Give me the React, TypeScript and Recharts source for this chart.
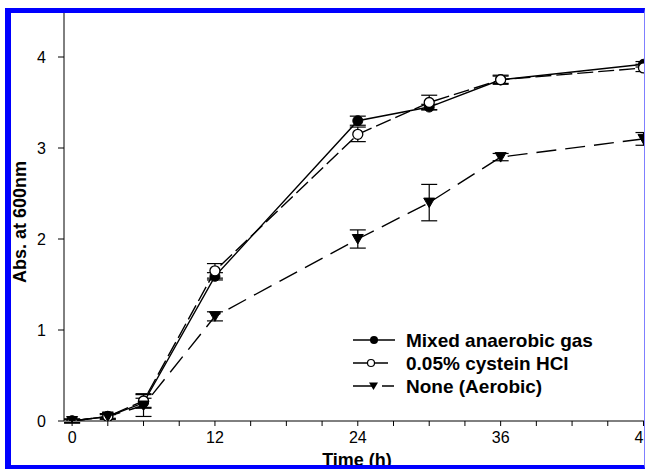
import React from "react";
import {
  LineChart,
  Line,
  XAxis,
  YAxis,
  ErrorBar,
  Legend,
} from "recharts";

// time points (h)
const times = [0, 3, 6, 12, 24, 30, 36, 48];

// absorbance at 600 nm
const mixedGas = [0, 0.05, 0.2, 1.59, 3.3, 3.45, 3.75, 3.92];
const mixedGasErr = [0.02, 0.02, 0.05, 0.04, 0.05, 0.03, 0.04, 0.03];
const cystein = [0, 0.05, 0.22, 1.65, 3.15, 3.5, 3.75, 3.88];
const cysteinErr = [0.02, 0.03, 0.08, 0.08, 0.08, 0.08, 0.05, 0.04];
const aerobic = [0, 0.05, 0.17, 1.15, 2.0, 2.4, 2.9, 3.1];
const aerobicErr = [0.02, 0.03, 0.12, 0.05, 0.1, 0.2, 0.04, 0.07];

const xTicks = [0, 3, 6, 9, 12, 15, 18, 21, 24, 27, 30, 33, 36, 39, 42, 45, 48];
const yTicks = [0, 1, 2, 3, 4];

const seriesNames = ["Mixed anaerobic gas", "0.05% cystein HCl", "None (Aerobic)"];

const data = times.map((t, i) => ({
  time: t,
  mixed: mixedGas[i],
  mixedErr: mixedGasErr[i],
  cys: cystein[i],
  cysErr: cysteinErr[i],
  none: aerobic[i],
  noneErr: aerobicErr[i],
}));

const FONT = "'Liberation Sans', Arial, Helvetica, sans-serif";
const CYS_DASH = "16 5";
const NONE_DASH = "20 9";

const FilledDot = (props: any) => {
  const { cx, cy, index } = props;
  if (cx == null || cy == null) return <g key={index} />;
  return <circle key={index} cx={cx} cy={cy} r={5} fill="#000" stroke="#000" strokeWidth={1} />;
};

const OpenDot = (props: any) => {
  const { cx, cy, index } = props;
  if (cx == null || cy == null) return <g key={index} />;
  return <circle key={index} cx={cx} cy={cy} r={5} fill="#fff" stroke="#000" strokeWidth={1.3} />;
};

const TriangleDot = (props: any) => {
  const { cx, cy, index } = props;
  if (cx == null || cy == null) return <g key={index} />;
  return (
    <path
      key={index}
      d={`M${cx - 5.5},${cy - 4.5}L${cx + 5.5},${cy - 4.5}L${cx},${cy + 5}Z`}
      fill="#000"
      stroke="#000"
      strokeWidth={1}
    />
  );
};

const renderLegend = () => (
  <svg width={270} height={80} style={{ display: "block" }}>
    <g transform="translate(-350,-325)" fontFamily={FONT} fontWeight="bold" fontSize={19}>
      <line x1={353} y1={340} x2={395} y2={340} stroke="#000" strokeWidth={1.4} />
      <circle cx={374} cy={340} r={4} fill="#000" />
      <text x={406} y={347}>{seriesNames[0]}</text>

      <line x1={353} y1={363} x2={388} y2={363} stroke="#000" strokeWidth={1.4} strokeDasharray={CYS_DASH} />
      <circle cx={371} cy={363} r={3.5} fill="#fff" stroke="#000" strokeWidth={1.2} />
      <text x={406} y={370}>{seriesNames[1]}</text>

      <line x1={353} y1={386} x2={394} y2={386} stroke="#000" strokeWidth={1.4} strokeDasharray={NONE_DASH} />
      <path d="M369,382.5L378,382.5L373.5,390Z" fill="#000" />
      <text x={406} y={393}>{seriesNames[2]}</text>
    </g>
  </svg>
);

const XTitle = () => (
  <text x={357} y={466} textAnchor="middle" fontFamily={FONT} fontWeight="bold" fontSize={18} fill="#000">
    Time (h)
  </text>
);

const YTitle = () => (
  <text
    x={20}
    y={222}
    transform="rotate(-90, 20, 222)"
    textAnchor="middle"
    dominantBaseline="central"
    fontFamily={FONT}
    fontWeight="bold"
    fontSize={18}
    fill="#000"
  >
    Abs. at 600nm
  </text>
);

export default function App() {
  return (
    <div
      style={{
        position: "absolute",
        left: 0,
        top: 0,
        width: 645,
        height: 469,
        overflow: "hidden",
        background: "#fff",
      }}
    >
      <LineChart
        width={680}
        height={469}
        data={data}
        margin={{ top: 11.5, right: 12.7, bottom: 0, left: 0 }}
      >
        <XAxis
          dataKey="time"
          type="number"
          domain={[-0.68, 50]}
          allowDataOverflow
          ticks={xTicks}
          tickFormatter={(v: number) => (v % 12 === 0 ? String(v) : "")}
          interval={0}
          height={48}
          tickSize={5}
          tickMargin={6}
          stroke="#000"
          tick={{ fill: "#000", fontSize: 16, fontFamily: FONT }}
          label={{ content: () => <XTitle /> }}
        />
        <YAxis
          type="number"
          domain={[0, 4.5]}
          allowDataOverflow
          ticks={yTicks}
          width={64}
          tickSize={6}
          tickMargin={12}
          stroke="#000"
          tick={{ fill: "#000", fontSize: 16, fontFamily: FONT }}
          label={{ content: () => <YTitle /> }}
        />
        <Legend
          content={renderLegend}
          layout="vertical"
          align="center"
          verticalAlign="middle"
          wrapperStyle={{ left: 350, top: 325, width: 270, height: 80 }}
        />
        <Line
          dataKey="mixed"
          name={seriesNames[0]}
          stroke="#000"
          strokeWidth={1.4}
          dot={FilledDot}
          activeDot={false}
          isAnimationActive={false}
        >
          <ErrorBar dataKey="mixedErr" width={8} stroke="#000" strokeWidth={1.2} direction="y" />
        </Line>
        <Line
          dataKey="cys"
          name={seriesNames[1]}
          stroke="#000"
          strokeWidth={1.4}
          strokeDasharray={CYS_DASH}
          dot={OpenDot}
          activeDot={false}
          isAnimationActive={false}
        >
          <ErrorBar dataKey="cysErr" width={8} stroke="#000" strokeWidth={1.2} direction="y" />
        </Line>
        <Line
          dataKey="none"
          name={seriesNames[2]}
          stroke="#000"
          strokeWidth={1.4}
          strokeDasharray={NONE_DASH}
          dot={TriangleDot}
          activeDot={false}
          isAnimationActive={false}
        >
          <ErrorBar dataKey="noneErr" width={8} stroke="#000" strokeWidth={1.2} direction="y" />
        </Line>
      </LineChart>
      {/* blue frame around the scanned figure */}
      <div
        style={{
          position: "absolute",
          left: 5,
          top: 8,
          width: 640,
          height: 461,
          boxSizing: "border-box",
          borderLeft: "6px solid #0000ff",
          borderTop: "5px solid #0000ff",
          borderBottom: "4px solid #0000ff",
          borderRight: "1px solid #7f7fff",
          pointerEvents: "none",
        }}
      />
    </div>
  );
}
